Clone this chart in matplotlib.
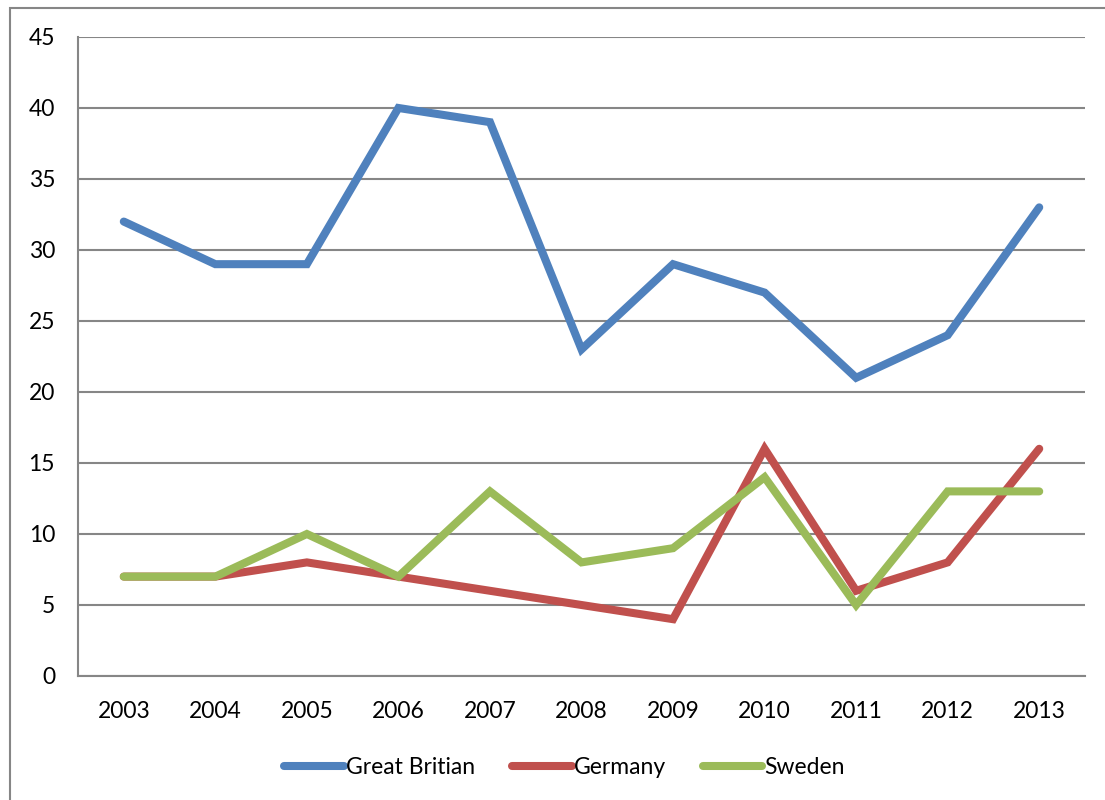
import matplotlib.pyplot as plt
from matplotlib.patches import Rectangle

plt.rcParams['font.family'] = ['Lato', 'DejaVu Sans']

years = ['2003', '2004', '2005', '2006', '2007', '2008', '2009', '2010', '2011', '2012', '2013']
great_britian = [32, 29, 29, 40, 39, 23, 29, 27, 21, 24, 33]
germany = [7, 7, 8, 7, 6, 5, 4, 16, 6, 8, 16]
sweden = [7, 7, 10, 7, 13, 8, 9, 14, 5, 13, 13]

fig = plt.figure(figsize=(11.05, 8), dpi=100)
ax = fig.add_axes([0.0706, 0.155, 0.9113, 0.7988])

x = range(len(years))
ax.plot(x, great_britian, color='#4F81BD', lw=5.8, solid_capstyle='round', solid_joinstyle='miter', label='Great Britian')
ax.plot(x, germany, color='#C0504D', lw=5.8, solid_capstyle='round', solid_joinstyle='miter', label='Germany')
ax.plot(x, sweden, color='#9BBB59', lw=5.8, solid_capstyle='round', solid_joinstyle='miter', label='Sweden')

ax.set_xlim(-0.5, len(years) - 0.5)
ax.set_ylim(0, 45)
ax.set_yticks(range(0, 46, 5))
ax.set_xticks(list(x))
ax.set_xticklabels(years)
ax.tick_params(length=0, labelsize=16.5)
ax.tick_params(axis='x', pad=18)
ax.tick_params(axis='y', pad=16.5)
ax.grid(axis='y', color='#868686', lw=1.5)
ax.set_axisbelow(True)
for s in ['top', 'right']:
    ax.spines[s].set_visible(False)
for s in ['left', 'bottom']:
    ax.spines[s].set_color('#868686')
    ax.spines[s].set_linewidth(1.5)

fig.legend(loc='center', bbox_to_anchor=(0.511, 0.041), ncol=3, frameon=False,
           fontsize=16.5, handlelength=2.6, handletextpad=0.1, columnspacing=1.6)

fig.add_artist(Rectangle((10 / 1105, -0.1), 1.2, 1.1 - 8 / 800, transform=fig.transFigure,
                         fill=False, edgecolor='#868686', lw=1.5))

fig.savefig('out.png', dpi=100)
